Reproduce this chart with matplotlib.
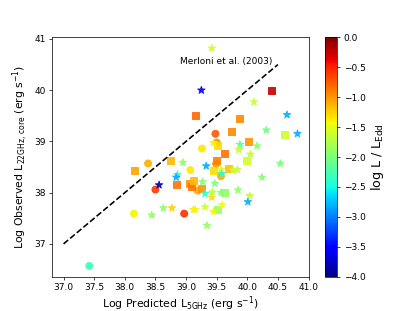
import numpy as np
import matplotlib
matplotlib.use("Agg")
import matplotlib.pyplot as plt

# circles
circ_x = [37.42, 38.15, 38.38, 38.50, 38.97, 39.07, 39.19, 39.26, 39.48, 39.50, 39.49, 39.57]
circ_y = [36.57, 37.59, 38.57, 38.06, 37.59, 38.44, 38.04, 38.86, 39.15, 38.98, 38.56, 38.32]
circ_c = [-2.3, -1.4, -1.1, -0.6, -0.55, -1.35, -1.1, -1.35, -0.75, -1.0, -1.05, -1.1]

# squares
sq_x = [38.16, 38.74, 38.84, 39.06, 39.09, 39.12, 39.26, 39.16, 39.49, 39.45, 39.51, 39.63,
        39.69, 39.75, 39.88, 40.02, 39.99, 40.40, 40.61, 39.51, 39.63]
sq_y = [38.44, 38.62, 38.15, 38.17, 38.12, 38.23, 38.09, 39.51, 38.62, 38.44, 38.93, 38.77,
        38.48, 39.20, 39.44, 38.99, 38.62, 39.99, 39.14, 37.68, 38.00]
sq_c = [-1.05, -1.15, -0.85, -1.0, -0.85, -1.15, -1.0, -0.8, -0.9, -1.3, -1.3, -0.85,
        -1.2, -0.95, -0.95, -1.0, -1.6, -0.25, -1.6, -1.85, -1.9]

# stars
st_x = [39.42, 39.25, 39.45, 40.11, 40.65, 40.31, 40.82, 39.88, 39.86, 40.05, 40.16, 40.54,
        38.95, 39.33, 38.86, 38.84, 38.56, 39.57, 39.77, 39.84, 39.58, 40.24, 39.47, 39.27,
        39.57, 39.85, 39.31, 39.43, 39.42, 40.04, 40.01, 39.31, 39.59, 39.45, 39.34, 39.12,
        39.15, 38.77, 38.63, 38.44]
st_y = [40.82, 40.00, 38.97, 39.77, 39.52, 39.22, 39.15, 38.94, 38.84, 38.75, 38.91, 38.57,
        38.59, 38.52, 38.35, 38.30, 38.15, 38.45, 38.44, 38.45, 38.37, 38.30, 38.18, 38.21,
        38.00, 38.05, 37.98, 38.01, 37.91, 37.94, 37.82, 37.72, 37.76, 37.63, 37.36, 37.67,
        37.67, 37.70, 37.70, 37.56]
st_c = [-1.6, -3.5, -1.4, -1.65, -2.8, -2.05, -2.8, -2.2, -1.65, -1.65, -1.95, -2.0,
        -1.9, -2.8, -2.4, -2.8, -3.8, -1.6, -1.6, -1.65, -2.4, -1.95, -2.0, -1.95,
        -1.95, -1.9, -2.35, -1.7, -1.3, -1.65, -2.8, -1.6, -1.45, -1.4, -1.9, -1.4,
        -1.4, -1.25, -1.9, -1.9]

line_ends = [37.0, 40.5]

fig = plt.figure(figsize=(415 / 65, 311 / 65), dpi=65)
ax = plt.gca()

kw = dict(cmap='jet', vmin=-4, vmax=0, alpha=0.9)
ax.plot(line_ends, line_ends, 'k--', lw=1.8)
ax.scatter(circ_x, circ_y, c=circ_c, marker='o', s=60, **kw)
ax.scatter(sq_x, sq_y, c=sq_c, marker='s', s=60, **kw)
sc = ax.scatter(st_x, st_y, c=st_c, marker='*', s=75, **kw)

ax.text(38.9, 40.57, 'Merloni et al. (2003)', fontsize=10, va='center')
ax.set_xlabel(r'Log Predicted L$_{\rm 5GHz}$ (erg s$^{-1}$)', fontsize=12, labelpad=2)
ax.set_ylabel(r'Log Observed L$_{\rm 22GHz,\, core}$ (erg s$^{-1}$)', fontsize=12)

cb = plt.colorbar(sc)
cb.solids.set_alpha(1)
cb.set_label(r'log L / L$_{\rm Edd}$', fontsize=14)

plt.savefig('out.png', dpi=65)
